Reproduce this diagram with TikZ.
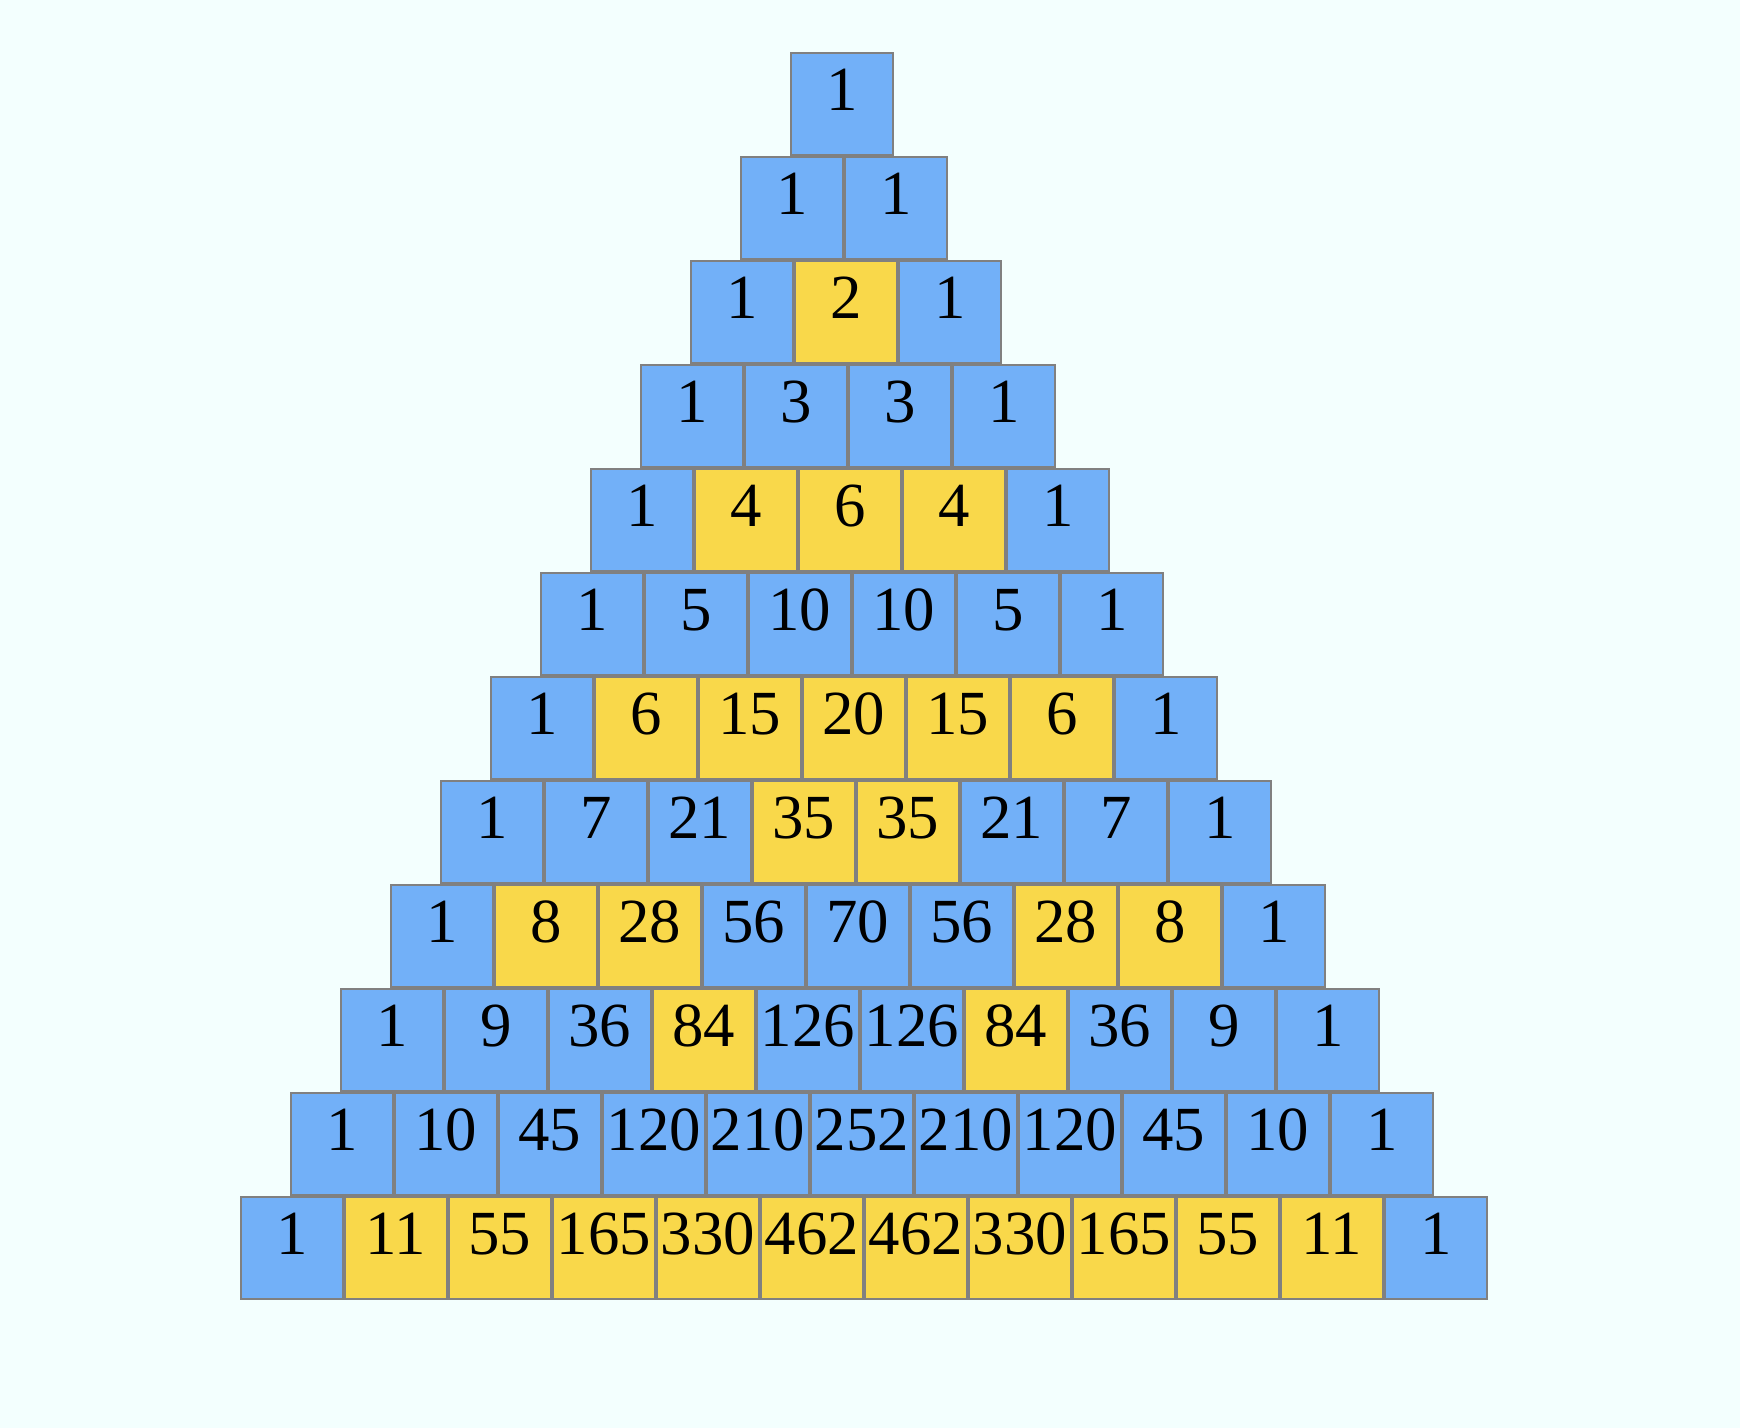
\documentclass[tikz,border=0pt]{standalone}
\usepackage{fontspec}
\setmainfont{Liberation Serif}
\definecolor{paper}{HTML}{F3FFFE}
\definecolor{cellB}{HTML}{72B0F8}
\definecolor{cellY}{HTML}{F9D84A}
\definecolor{cellline}{HTML}{808080}
\tikzset{
  cell/.style={draw=cellline, line width=1pt, minimum size=51pt, inner sep=0pt,
    text height=6.5pt, text depth=0pt, font=\fontsize{31.4}{36}\selectfont}
}
\begin{document}
\begin{tikzpicture}[x=0.5pt, y=-0.5pt]

  % Background
  \fill[paper] (0,0) rectangle (1740,1428);
  \useasboundingbox (0,0) rectangle (1740,1428);

  % Rows of the triangle
  \foreach \n/\row in {
    0/{1/B},
    1/{1/B,1/B},
    2/{1/B,2/Y,1/B},
    3/{1/B,3/B,3/B,1/B},
    4/{1/B,4/Y,6/Y,4/Y,1/B},
    5/{1/B,5/B,10/B,10/B,5/B,1/B},
    6/{1/B,6/Y,15/Y,20/Y,15/Y,6/Y,1/B},
    7/{1/B,7/B,21/B,35/Y,35/Y,21/B,7/B,1/B},
    8/{1/B,8/Y,28/Y,56/B,70/B,56/B,28/Y,8/Y,1/B},
    9/{1/B,9/B,36/B,84/Y,126/B,126/B,84/Y,36/B,9/B,1/B},
    10/{1/B,10/B,45/B,120/B,210/B,252/B,210/B,120/B,45/B,10/B,1/B},
    11/{1/B,11/Y,55/Y,165/Y,330/Y,462/Y,462/Y,330/Y,165/Y,55/Y,11/Y,1/B}}
  {
    \foreach \v/\c [count=\k from 0] in \row
      \node[cell, fill=cell\c] (c-\n-\k) at (841.8-50*\n+104*\k, 104.2+104*\n) {\v};
  }

\end{tikzpicture}
\end{document}
